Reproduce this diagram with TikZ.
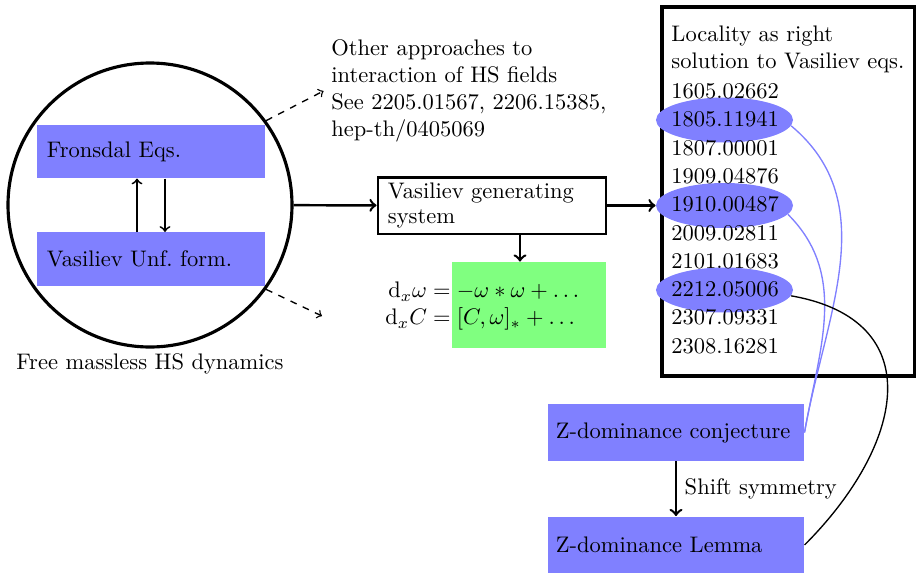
\documentclass[tikz,border=0pt]{standalone}
\usepackage{amsmath}
\usetikzlibrary{shapes.geometric,calc}
\begin{document}
\begin{tikzpicture}[x=0.4444pt, y=0.4444pt,
  bluebox/.style={rectangle, fill=blue!50, align=left, inner xsep=4.4pt, inner ysep=0pt,
    text width=92.5pt, minimum width=101.3pt, minimum height=23.6pt},
  zbox/.style={rectangle, fill=blue!50, align=left, inner xsep=3.56pt, inner ysep=0pt,
    text width=106.7pt, minimum width=113.8pt, minimum height=25.3pt},
  genbox/.style={rectangle, draw, line width=1.3pt, align=left, inner xsep=4.4pt, inner ysep=0pt,
    text width=92.5pt, minimum width=101.3pt, minimum height=25.3pt},
  ellnode/.style={ellipse, fill=blue!50, minimum width=60.9pt, minimum height=20pt, inner sep=0pt},
  listitem/.style={anchor=base west, inner sep=0pt},
  mainarrow/.style={->, line width=1.1pt},
  innerarrow/.style={->, thick},
  dasharrow/.style={->, dashed, semithick},
  bluecurve/.style={blue!50, semithick},
  blackcurve/.style={black, semithick}
]
\useasboundingbox (0,0) rectangle (916,-573);

% circle with free HS dynamics
\node[circle, draw, line width=1.4pt, minimum size=126.2pt, inner sep=0pt] (circ) at (150,-205) {};
\node[below=-1.5pt] (circlbl) at (circ.south) {Free massless HS dynamics};
\node[bluebox] (frons) at (151,-151.5) {Fronsdal Eqs.};
\node[bluebox] (unf) at (151,-259) {Vasiliev Unf.\ form.};
\coordinate (ua) at (137,0);
\coordinate (da) at (165,0);
\draw[innerarrow] (unf.north -| ua) -- (frons.south -| ua);
\draw[innerarrow] (frons.south -| da) -- (unf.north -| da);

% other approaches
\node[anchor=west, align=left] (other) at (323.5,-91) {Other approaches to\\interaction of HS fields\\See 2205.01567, 2206.15385,\\hep-th/0405069};
\coordinate (lowend) at (322,-316);
\draw[dasharrow] (circ.36) -- (other.west);
\draw[dasharrow] (circ.-36) -- (lowend);

% generating system
\node[genbox] (gen) at (492,-205.5) {Vasiliev generating\\[-0.9pt]system};
\draw[mainarrow] (circ) -- (gen);
\node[fill=green!50, minimum width=68.4pt, minimum height=38.2pt, inner sep=0pt] (eqbox) at (529,-305) {};
\node[anchor=west, inner sep=0pt] (eq) at (385,-306) {$\begin{array}{@{}r@{}l@{}}
  \mathrm{d}_x\omega &{}= -\omega*\omega+\ldots\\
  \mathrm{d}_xC &{}= [C,\omega]_*+\ldots
\end{array}$};
\coordinate (ga) at (520,0);
\draw[mainarrow] (gen.south -| ga) -- (eqbox.north -| ga);

% locality box
\node[draw, line width=1.6pt, minimum width=112.4pt, minimum height=164pt, inner sep=0pt] (rbox) at (788.5,-191.5) {};
\node[ellnode] (e1) at (724.5,-120) {};
\node[ellnode] (e2) at (724.5,-205.5) {};
\node[ellnode] (e3) at (724.5,-290) {};
\node[listitem] (h1) at (671,-41) {Locality as right};
\node[listitem] (h2) at (671,-68.5) {solution to Vasiliev eqs.};
\node[listitem] (p0) at (671,-98.5) {1605.02662};
\node[listitem] (p1) at (671,-126.8) {1805.11941};
\node[listitem] (p2) at (671,-155.1) {1807.00001};
\node[listitem] (p3) at (671,-183.4) {1909.04876};
\node[listitem] (p4) at (671,-211.7) {1910.00487};
\node[listitem] (p5) at (671,-240) {2009.02811};
\node[listitem] (p6) at (671,-268.3) {2101.01683};
\node[listitem] (p7) at (671,-296.6) {2212.05006};
\node[listitem] (p8) at (671,-324.9) {2307.09331};
\node[listitem] (p9) at (671,-353.2) {2308.16281};
\draw[mainarrow] (gen) -- (e2);

% Z-dominance
\node[zbox] (conj) at (676,-432.5) {Z-dominance conjecture};
\node[zbox] (lemma) at (676,-545) {Z-dominance Lemma};
\draw[mainarrow] (conj) -- node[right] {Shift symmetry} (lemma);

% curves
\draw[bluecurve] (e1.-5) to[out=-40, in=80] (conj.east);
\draw[bluecurve] (e2.-8) to[out=-45, in=80] (conj.east);
\draw[blackcurve] (e3.-5) to[out=-10, in=45, looseness=1.45] (lemma.east);
\end{tikzpicture}
\end{document}
